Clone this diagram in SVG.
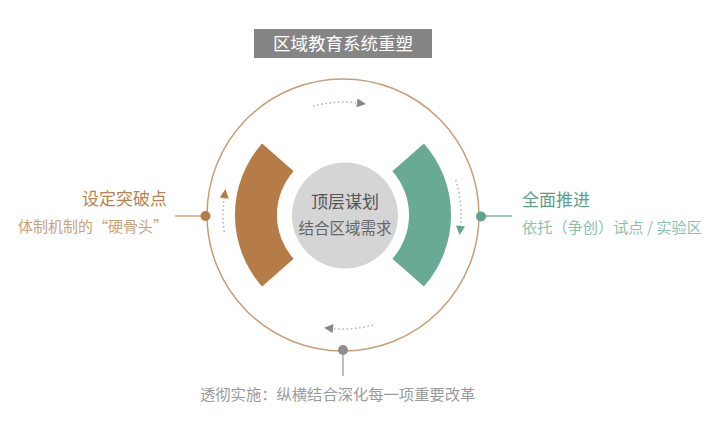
<svg xmlns="http://www.w3.org/2000/svg" width="720" height="427" viewBox="0 0 720 427">
<style>
text{font-family:"Noto Sans CJK SC","Noto Sans",sans-serif}
.dash{fill:none;stroke:#b8b8b8;stroke-width:1.6;stroke-dasharray:1.6 2.6}
</style>
<defs>
<marker id="ahGray" viewBox="0 0 10 10" refX="0" refY="5" markerWidth="10" markerHeight="9" markerUnits="userSpaceOnUse" orient="auto"><path d="M0,0 L10,5 L0,10 z" fill="#878787"/></marker>
<marker id="ahTeal" viewBox="0 0 10 10" refX="0" refY="5" markerWidth="10" markerHeight="9" markerUnits="userSpaceOnUse" orient="auto"><path d="M0,0 L10,5 L0,10 z" fill="#5fa38d"/></marker>
<marker id="ahBrown" viewBox="0 0 10 10" refX="0" refY="5" markerWidth="10" markerHeight="9" markerUnits="userSpaceOnUse" orient="auto"><path d="M0,0 L10,5 L0,10 z" fill="#b57c48"/></marker>
</defs>
<rect width="720" height="427" fill="#ffffff"/>
<g id="title">
<rect x="254" y="29" width="178" height="29" fill="#858585"/>
<text x="343" y="50" font-size="17.5" fill="#ffffff" text-anchor="middle">区域教育系统重塑</text>
</g>
<g id="ring">
<circle cx="343" cy="215" r="136" fill="none" stroke="#c89d74" stroke-width="1.5"/>
</g>
<g id="connectors">
<line x1="175" y1="216" x2="205" y2="216" stroke="#d3a77e" stroke-width="1.5"/>
<line x1="481" y1="216" x2="512" y2="216" stroke="#7fb6a4" stroke-width="1.5"/>
<line x1="343" y1="351" x2="343" y2="376" stroke="#a8a8a8" stroke-width="1.5"/>
<path class="dash" d="M313,106.1 A113,113 0 0 1 357,102.9" marker-end="url(#ahGray)"/>
<path class="dash" d="M455.7,180 A118,118 0 0 1 460.5,226" marker-end="url(#ahTeal)"/>
<path class="dash" d="M373,325 A114,114 0 0 1 333,328.6" marker-end="url(#ahGray)"/>
<path class="dash" d="M224.2,232 A120,120 0 0 1 224.2,198" marker-end="url(#ahBrown)"/>
</g>
<g id="dot-left"><circle cx="205.5" cy="216" r="5" fill="#b57c48"/></g>
<g id="dot-right"><circle cx="481" cy="216.5" r="5" fill="#5fa38d"/></g>
<g id="dot-bottom"><circle cx="343" cy="350" r="5" fill="#8e8e8e"/></g>
<g id="band-left">
<path d="M262.1,143.4 A108,108 0 0 0 262.1,286.6 L293.6,258.8 A66,66 0 0 1 293.6,171.2 Z" fill="#b57c48"/>
</g>
<g id="band-right">
<path d="M423.9,143.4 A108,108 0 0 1 423.9,286.6 L392.4,258.8 A66,66 0 0 0 392.4,171.2 Z" fill="#68aa95"/>
</g>
<g id="center">
<circle cx="345" cy="215.5" r="53" fill="#d5d5d5"/>
<text x="345" y="208" font-size="17" fill="#555555" text-anchor="middle">顶层谋划</text>
<text x="345" y="234" font-size="15.5" fill="#666666" text-anchor="middle">结合区域需求</text>
</g>
<g id="label-left">
<text x="167" y="205" font-size="17" fill="#b8834f" text-anchor="end">设定突破点</text>
<text x="168" y="232" font-size="15" fill="#c9a27e" text-anchor="end">体制机制的“硬骨头”</text>
</g>
<g id="label-right">
<text x="522" y="206" font-size="17" fill="#5c9e88">全面推进</text>
<text x="522" y="233" font-size="15.2" fill="#8cbfad">依托（争创）试点 / 实验区</text>
</g>
<g id="label-bottom">
<text x="200" y="400" font-size="15.3" fill="#9a9a9a">透彻实施：纵横结合深化每一项重要改革</text>
</g>
</svg>
